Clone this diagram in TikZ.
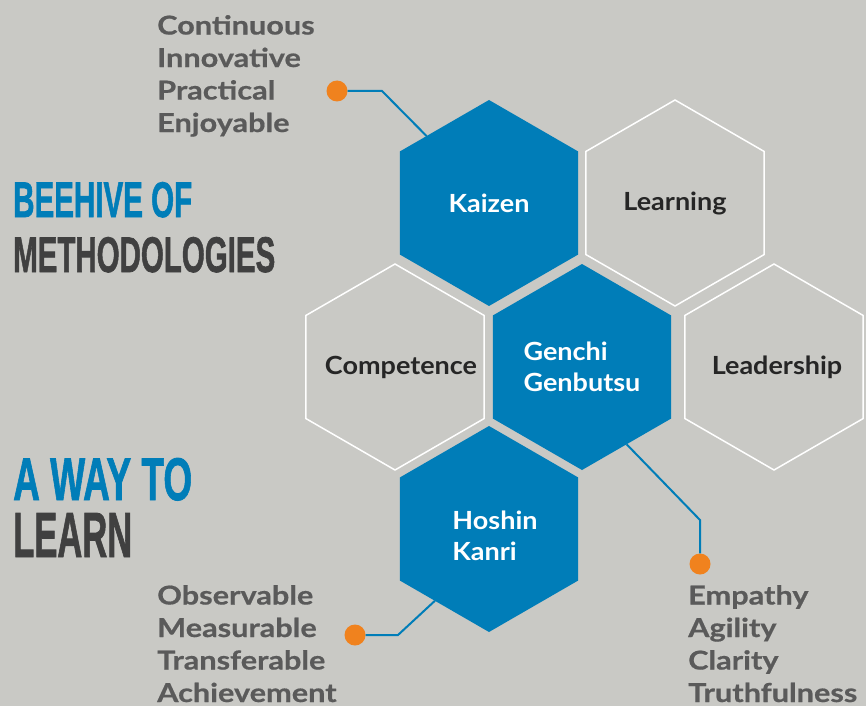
\documentclass[tikz,border=0pt]{standalone}
\usepackage{fontspec}
\setmainfont[FakeStretch=1.08]{Lato}
\newfontfamily\listfont[FakeStretch=1.18, FakeBold=0.6]{Lato}
\newfontfamily\headfont[FakeBold=1.5]{Liberation Sans}
\usepackage{graphicx}
\usetikzlibrary{shapes.geometric, positioning}

\definecolor{bggrey}{HTML}{C9C9C5}
\definecolor{hexblue}{HTML}{007DB8}
\definecolor{dotorange}{HTML}{F0821E}
\definecolor{listgrey}{HTML}{5A5A5A}
\definecolor{headgrey}{HTML}{404040}
\definecolor{labeldark}{HTML}{262626}

\tikzset{
  hexcell/.style={regular polygon, regular polygon sides=6, shape border rotate=30,
    minimum size=206pt, inner sep=0pt, outer sep=0pt},
  bluehex/.style={hexcell, fill=hexblue},
  openhex/.style={hexcell, draw=white, line width=1.5pt},
  hexlabel/.style={align=left, inner sep=0pt, font=\bfseries\fontsize{25}{31}\selectfont},
  whitelabel/.style={hexlabel, text=white},
  darklabel/.style={hexlabel, text=labeldark},
  orangedot/.style={circle, fill=dotorange, minimum size=21pt, inner sep=0pt},
  link/.style={draw=hexblue, line width=2pt},
  wordlist/.style={anchor=base west, align=left, inner sep=0pt, text=listgrey,
    font=\listfont\bfseries\fontsize{26}{32.5}\selectfont},
  heading/.style={anchor=base west, inner sep=0pt, font=\headfont\bfseries}
}

\begin{document}
\begin{tikzpicture}[x=1pt, y=-1pt]
\fill[bggrey] (0,0) rectangle (866,706);
\useasboundingbox (0,0) rectangle (866,706);

% headings
\node[heading, text=hexblue] (beehive) at (13,217) {\resizebox{179pt}{35pt}{BEEHIVE OF}};
\node[heading, text=headgrey] (methods) at (13,272) {\resizebox{262pt}{35pt}{METHODOLOGIES}};
\node[heading, text=hexblue] (away) at (13,500) {\resizebox{179pt}{42pt}{A WAY TO}};
\node[heading, text=headgrey] (learn) at (13,557) {\resizebox{119pt}{44pt}{LEARN}};

% the hive
\node[bluehex, label={[whitelabel]center:Kaizen}] (kaizen) at (489,203) {};
\node[openhex, label={[darklabel]center:Learning}] (learning) at (675,203) {};
\node[openhex, label={[darklabel, xshift=6pt]center:Competence}] (competence) at (395,367) {};
\node[bluehex, label={[whitelabel]center:Genchi\\Genbutsu}] (genchi) at (582,367) {};
\node[openhex, label={[darklabel, xshift=3pt]center:Leadership}] (leadership) at (774,367) {};
\node[bluehex, label={[whitelabel, xshift=6pt, yshift=-7pt]center:Hoshin\\Kanri}] (hoshin) at (489,529) {};

% word lists
\node[wordlist] (kaizenlist) at (157,132) {Continuous\\Innovative\\Practical\\Enjoyable};
\node[wordlist] (hoshinlist) at (157,702) {Observable\\Measurable\\Transferable\\Achievement};
\node[wordlist] (genchilist) at (688,702) {Empathy\\Agility\\Clarity\\Truthfulness};

% callouts
\node[orangedot] (kaizendot) at (337,91) {};
\coordinate (kaizenbend) at (382,91);
\draw[link] (kaizendot) -- (kaizenbend) -- (kaizen.133);

\node[orangedot] (hoshindot) at (355,635) {};
\coordinate (hoshinbend) at (398,635);
\draw[link] (hoshindot) -- (hoshinbend) -- (hoshin.233);

\node[orangedot] (genchidot) at (700,564) {};
\coordinate (genchibend) at (700,520);
\draw[link] (genchi.300) -- (genchibend) -- (genchidot);
\end{tikzpicture}
\end{document}
